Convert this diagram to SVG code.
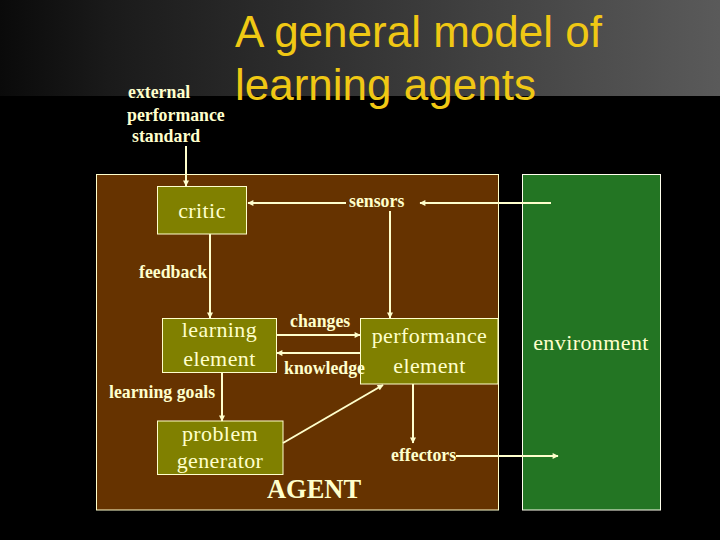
<svg xmlns="http://www.w3.org/2000/svg" width="720" height="540" viewBox="0 0 720 540">
  <defs>
    <linearGradient id="band" x1="0" y1="0" x2="1" y2="0">
      <stop offset="0" stop-color="#0a0a0a"/>
      <stop offset="0.15" stop-color="#1a1a1a"/>
      <stop offset="1" stop-color="#5a5a5a"/>
    </linearGradient>
    <marker id="ah" viewBox="0 0 10 10" refX="9" refY="5" markerWidth="7" markerHeight="6" markerUnits="userSpaceOnUse" orient="auto">
      <path d="M0,0 L10,5 L0,10 z" fill="#FFFFCC"/>
    </marker>
    <style>
      .title { font-family: "Liberation Sans", Arial, sans-serif; font-size: 44px; fill: #F0C814; }
      .lbl { font-family: "Liberation Serif", "Times New Roman", serif; font-size: 17.8px; font-weight: bold; fill: #FFFFCC; }
      .nt { font-family: "Liberation Serif", "Times New Roman", serif; font-size: 22px; fill: #FFFFCC; text-anchor: middle; letter-spacing: 0.4px; }
      .node { fill: #808000; stroke: #FFFFCC; stroke-width: 1; }
      .conn { stroke: #FFFFCC; stroke-width: 2; fill: none; }
      .arr { marker-end: url(#ah); }
    </style>
  </defs>

  <rect x="0" y="0" width="720" height="540" fill="#000"/>
  <rect x="0" y="0" width="720" height="96" fill="url(#band)"/>

  <text class="title" x="235" y="47">A general model of</text>
  <text class="title" x="235" y="100">learning agents</text>

  <text class="lbl" x="128" y="98">external</text>
  <text class="lbl" x="127" y="121">performance</text>
  <text class="lbl" x="132" y="142">standard</text>

  <g id="agent">
    <rect x="96.5" y="174.5" width="402" height="335.5" fill="#663300" stroke="#FFFFCC" stroke-width="1"/>
    <text x="314" y="498" font-family="'Liberation Serif', 'Times New Roman', serif" font-size="26.5" font-weight="bold" fill="#FFFFCC" text-anchor="middle">AGENT</text>
  </g>

  <g id="environment">
    <rect x="522.5" y="174.5" width="138" height="335.5" fill="#237523" stroke="#FFFFEE" stroke-width="1"/>
    <text class="nt" x="591" y="350">environment</text>
  </g>

  <g id="critic">
    <rect class="node" x="157.5" y="186.5" width="89" height="47.5"/>
    <text class="nt" x="202" y="218">critic</text>
  </g>

  <g id="learning-element">
    <rect class="node" x="162.5" y="318.5" width="114" height="54"/>
    <text class="nt" x="219.5" y="337">learning</text>
    <text class="nt" x="219.5" y="366">element</text>
  </g>

  <g id="performance-element">
    <rect class="node" x="360.5" y="318.5" width="137.5" height="65.5"/>
    <text class="nt" x="429.5" y="343">performance</text>
    <text class="nt" x="429.5" y="373">element</text>
  </g>

  <g id="problem-generator">
    <rect class="node" x="157.5" y="421" width="125.5" height="53.5"/>
    <text class="nt" x="220" y="441">problem</text>
    <text class="nt" x="220" y="468">generator</text>
  </g>

  <g id="connectors">
    <line class="conn arr" x1="186" y1="146" x2="186" y2="186"/>
    <line class="conn arr" x1="346" y1="203" x2="248" y2="203"/>
    <line class="conn arr" x1="551" y1="203" x2="420" y2="203"/>
    <line class="conn arr" x1="390" y1="211" x2="390" y2="318"/>
    <line class="conn arr" x1="210" y1="234" x2="210" y2="318"/>
    <line class="conn arr" x1="277" y1="335" x2="360" y2="335"/>
    <line class="conn arr" x1="360" y1="353" x2="277" y2="353"/>
    <line class="conn arr" x1="222" y1="372" x2="222" y2="421"/>
    <line class="conn arr" x1="283" y1="443" x2="383" y2="385"/>
    <line class="conn arr" x1="413" y1="384" x2="413" y2="443"/>
    <line class="conn arr" x1="456" y1="456" x2="558" y2="456"/>
  </g>

  <text class="lbl" x="349" y="207">sensors</text>
  <text class="lbl" x="139" y="278">feedback</text>
  <text class="lbl" x="290" y="327">changes</text>
  <text class="lbl" x="284" y="374">knowledge</text>
  <text class="lbl" x="109" y="398">learning goals</text>
  <text class="lbl" x="391" y="461">effectors</text>
</svg>
